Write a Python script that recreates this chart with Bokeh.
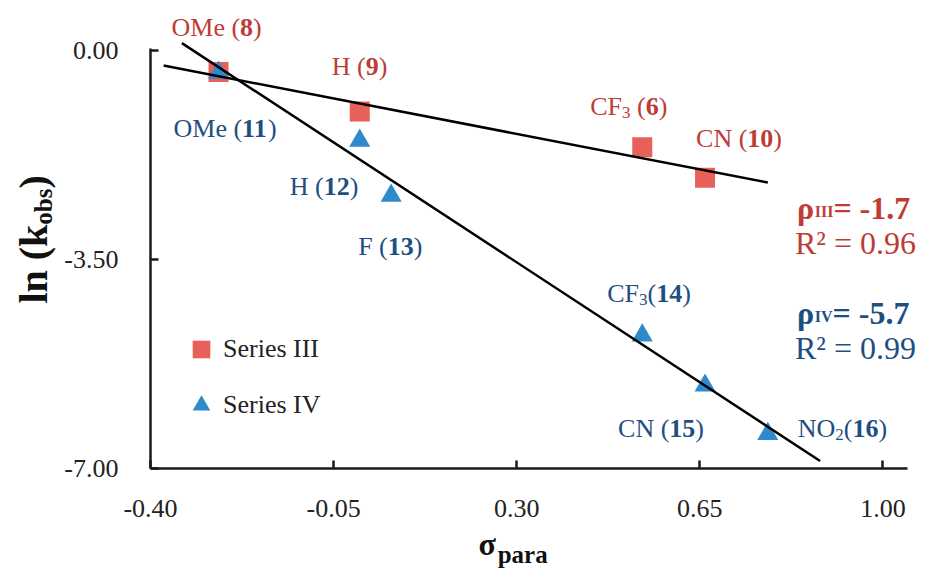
import math
import numpy as np
from bokeh.plotting import figure
from bokeh.models import Label, Legend, LegendItem, Range1d, FixedTicker, PrintfTickFormatter
from bokeh.embed import file_html
from bokeh.resources import INLINE

# ---------------- data ----------------
III_SIGMA = [-0.27, 0.00, 0.54, 0.66]
III_LNK = [-0.36, -1.02, -1.62, -2.13]
III_SUBST = ["OMe", "H", "CF_3", "CN"]
III_IDS = ["8", "9", "6", "10"]
III_SEP = [" (", " (", " (", " ("]

IV_SIGMA = [-0.27, 0.00, 0.06, 0.54, 0.66, 0.78]
IV_LNK = [-0.37, -1.51, -2.43, -4.77, -5.61, -6.42]
IV_SUBST = ["OMe", "H", "F", "CF_3", "CN", "NO_2"]
IV_IDS = ["11", "12", "13", "14", "15", "16"]
IV_SEP = [" (", " (", " (", "(", " (", "("]

III_FIT_SPAN = [-0.375, 0.78]
IV_FIT_SPAN = [-0.34, 0.88]
RHO_III = "-1.7"
R2_III = "0.96"
RHO_IV = "-5.7"
R2_IV = "0.99"

XTICKS = [-0.40, -0.05, 0.30, 0.65, 1.00]
YTICKS = [0.00, -3.50, -7.00]
X_AXIS_SPAN = (-0.40, 1.047)
Y_AXIS_SPAN = (-7.00, 0.034)

# ---------------- layout / style ----------------
W, H = 925, 575
BOX_L, BOX_R, BOX_T, BOX_B = 150, 907, 48, 468   # pixel box covered by the axes
FONT = "Liberation Serif"
RED_MK = "#E8605A"
BLUE_MK = "#2E8BCB"
RED_TX = "#BE3C37"
BLUE_TX = "#1F4E82"
AX = "#1a1a1a"
BASE_FIX = 9   # pixels: raise text baselines

# label offsets (pixels) relative to their points
III_OFF = [(-47, 36), (-28, 36), (-52, 32), (-9, 30)]
IV_OFF = [(-45, -65), (-70, -55), (-33, -60), (-35, 33), (-87, -52), (30, -4)]

sx = (BOX_R - BOX_L) / (X_AXIS_SPAN[1] - X_AXIS_SPAN[0])
sy = (BOX_B - BOX_T) / (Y_AXIS_SPAN[1] - Y_AXIS_SPAN[0])
x_rng = Range1d(X_AXIS_SPAN[0] - BOX_L / sx, X_AXIS_SPAN[1] + (W - BOX_R) / sx)
y_rng = Range1d(Y_AXIS_SPAN[0] - (H - BOX_B) / sy, Y_AXIS_SPAN[1] + BOX_T / sy)

p = figure(width=W, height=H, x_range=x_rng, y_range=y_rng,
           output_backend="svg", toolbar_location=None, min_border=0)
p.outline_line_color = None
p.grid.visible = False
p.background_fill_color = "white"
p.border_fill_color = "white"

for ax in (p.xaxis[0], p.yaxis[0]):
    ax.axis_line_color = AX
    ax.axis_line_width = 2.5
    ax.major_tick_line_color = AX
    ax.major_tick_line_width = 2.5
    ax.major_tick_in = 8
    ax.major_tick_out = 0
    ax.minor_tick_line_color = None
    ax.major_label_text_font = FONT
    ax.major_label_text_font_size = "26px"
    ax.major_label_text_color = "#222222"
    ax.formatter = PrintfTickFormatter(format="%.2f")
p.xaxis.ticker = FixedTicker(ticks=XTICKS)
p.yaxis.ticker = FixedTicker(ticks=YTICKS)
p.xaxis.fixed_location = Y_AXIS_SPAN[0]
p.yaxis.fixed_location = X_AXIS_SPAN[0]
p.xaxis.bounds = X_AXIS_SPAN
p.yaxis.bounds = Y_AXIS_SPAN
p.xaxis.major_label_standoff = 31
p.yaxis.major_label_standoff = 32

# ---------------- marks ----------------
sq = p.scatter(III_SIGMA, III_LNK, marker="square", size=20, fill_color=RED_MK, line_color=None)
tr = p.scatter(IV_SIGMA, IV_LNK, marker="triangle", size=21, fill_color=BLUE_MK, line_color=None)

k3, b3 = np.polyfit(III_SIGMA, III_LNK, 1)
k4, b4 = np.polyfit(IV_SIGMA, IV_LNK, 1)
xs3 = np.array(III_FIT_SPAN)
xs4 = np.array(IV_FIT_SPAN)
p.line(xs3, k3 * xs3 + b3, line_color="black", line_width=2.5)
p.line(xs4, k4 * xs4 + b4, line_color="black", line_width=2.5)

# ---------------- text helpers ----------------
REG = {' ': 250, '(': 333, ')': 333, '.': 250, '-': 333, '=': 564, '²': 300, 'C': 667, 'F': 556,
       'H': 722, 'M': 889, 'N': 722, 'O': 722, 'R': 667, 'e': 444, 'a': 444, 'r': 333, 'p': 500}
BOLD = {' ': 250, '(': 333, ')': 333, '.': 250, '-': 333, '=': 570, 'I': 389, 'V': 722, 'a': 500,
        'b': 556, 'k': 556, 'l': 278, 'n': 556, 'o': 500, 'p': 556, 'r': 444, 's': 389,
        'ρ': 550, 'σ': 600}


def tw(t, size, bold):
    tab = BOLD if bold else REG
    return sum(tab.get(c, 500) for c in t) * size / 1000.0


def runs(x, y, parts, color, dx=0.0, dy=0.0, angle=0.0):
    """parts: (text, size, bold, shift_down); x, y in data units, offsets in pixels"""
    off = 0.0
    for t, size, bold, shift in parts:
        lead = len(t) - len(t.lstrip(" "))
        shown = t.strip(" ")
        pos = off + tw(" " * lead, size, bold)
        if angle == 0.0:
            xo, yo = dx + pos, dy - shift + BASE_FIX
        else:
            xo, yo = dx + shift - BASE_FIX, dy + pos
        if shown:
            p.add_layout(Label(x=x, y=y, x_offset=xo, y_offset=yo, text=shown, angle=angle,
                               text_font=FONT, text_font_size=f"{size}px",
                               text_font_style="bold" if bold else "normal",
                               text_color=color, text_baseline="alphabetic", text_align="left"))
        off += tw(t, size, bold)


def point_label(subst, sep, num, size=26):
    parts = []
    if "_" in subst:
        a, b = subst.split("_")
        parts += [(a, size, False, 0), (b, 17, False, 6)]
    else:
        parts.append((subst, size, False, 0))
    parts += [(sep, size, False, 0), (num, size, True, 0), (")", size, False, 0)]
    return parts


for i in range(len(III_SIGMA)):
    runs(III_SIGMA[i], III_LNK[i], point_label(III_SUBST[i], III_SEP[i], III_IDS[i]), RED_TX,
         dx=III_OFF[i][0], dy=III_OFF[i][1])
for i in range(len(IV_SIGMA)):
    runs(IV_SIGMA[i], IV_LNK[i], point_label(IV_SUBST[i], IV_SEP[i], IV_IDS[i]), BLUE_TX,
         dx=IV_OFF[i][0], dy=IV_OFF[i][1])

# rho / R2 annotations
runs(0.836, -2.78, [("ρ", 32, True, 0), ("III", 16, True, 4), ("= " + RHO_III, 32, True, 0)], RED_TX)
runs(0.832, -3.38, [("R² = " + R2_III, 32, False, 0)], RED_TX)
runs(0.836, -4.54, [("ρ", 32, True, 0), ("IV", 16, True, 4), ("= " + RHO_IV, 32, True, 0)], BLUE_TX)
runs(0.832, -5.14, [("R² = " + R2_IV, 32, False, 0)], BLUE_TX)

# axis titles
runs(0.2269, -8.407, [("σ", 32, True, 0), ("para", 25, True, 11)], "#111111")
runs(-0.6064, -4.238, [("ln (k", 40, True, 0), ("obs", 25, True, 10), (")", 40, True, 0)],
     "#111111", angle=math.pi / 2)

# legend
leg = Legend(items=[LegendItem(label="Series III", renderers=[sq]),
                    LegendItem(label="Series IV", renderers=[tr])],
             location=(BOX_L + 29, H - BOX_B + 39), orientation="vertical")
leg.glyph_width = 44
leg.glyph_height = 48
leg.label_height = 48
leg.spacing = 8
leg.padding = 0
leg.margin = 0
leg.label_standoff = 0
leg.label_text_font = FONT
leg.label_text_font_size = "26px"
leg.label_text_color = "#222222"
leg.border_line_color = None
leg.background_fill_alpha = 0
p.add_layout(leg, "center")

open("out.html", "w").write(file_html(p, INLINE))
